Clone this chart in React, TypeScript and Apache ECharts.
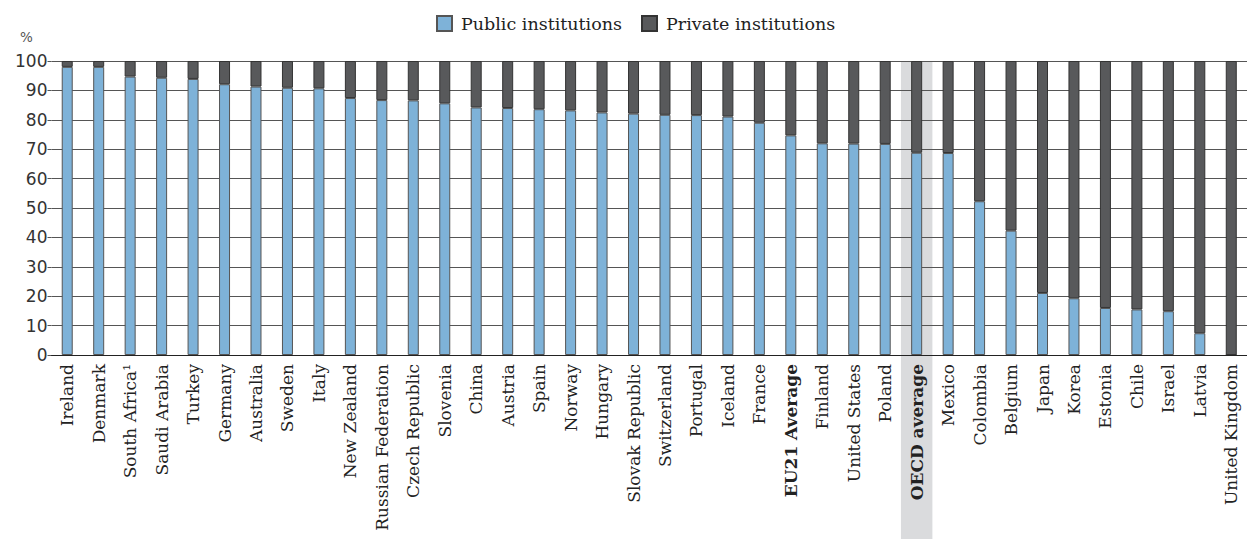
import React, { useEffect, useRef } from "react";
import * as echarts from "echarts";

const countries = [
  "Ireland", "Denmark", "South Africa¹", "Saudi Arabia", "Turkey", "Germany", "Australia",
  "Sweden", "Italy", "New Zealand", "Russian Federation", "Czech Republic", "Slovenia",
  "China", "Austria", "Spain", "Norway", "Hungary", "Slovak Republic", "Switzerland",
  "Portugal", "Iceland", "France", "EU21 Average", "Finland", "United States", "Poland",
  "OECD average", "Mexico", "Colombia", "Belgium", "Japan", "Korea", "Estonia", "Chile",
  "Israel", "Latvia", "United Kingdom",
];

const publicShare = [
  98, 98, 94.7, 94.3, 93.9, 92.1, 91.3, 90.9, 90.7, 87.4, 86.7, 86.6, 85.6, 84.2, 84.0,
  83.6, 83.2, 82.5, 82.1, 81.7, 81.6, 81.1, 79.0, 74.7, 72.0, 71.9, 71.8, 68.8, 68.7,
  52.3, 42.3, 21.1, 19.3, 16.0, 15.5, 14.9, 7.4, 0,
];

const privateShare = [
  2, 2, 5.3, 5.7, 6.1, 7.9, 8.7, 9.1, 9.3, 12.6, 13.3, 13.4, 14.4, 15.8, 16.0,
  16.4, 16.8, 17.5, 17.9, 18.3, 18.4, 18.9, 21.0, 25.3, 28.0, 28.1, 28.2, 31.2, 31.3,
  47.7, 57.7, 78.9, 80.7, 84.0, 84.5, 85.1, 92.6, 100,
];

const yTicks = [0, 10, 20, 30, 40, 50, 60, 70, 80, 90, 100];
const boldLabels = ["EU21 Average", "OECD average"];
const highlighted = "OECD average";

const SERIF = "'DejaVu Serif', serif";
const SANS = "'DejaVu Sans', sans-serif";

export default function App() {
  const ref = useRef<HTMLDivElement>(null);

  useEffect(() => {
    if (!ref.current) return;
    const chart = echarts.init(ref.current, undefined, { renderer: "svg" });
    const gridTop = 61;
    const pctText = {
      type: "text",
      left: 20,
      top: 30,
      style: { text: "%", fontFamily: SANS, fontSize: 13.5, fill: "#555" },
    };
    chart.setOption({
      animation: false,
      legend: {
        top: 14.5,
        left: 436,
        padding: 0,
        itemWidth: 15,
        itemHeight: 15,
        itemGap: 19,
        icon: "rect",
        textStyle: { fontFamily: SERIF, fontSize: 17.5, color: "#222", padding: [0, 0, 0, 4] },
        data: ["Public institutions", "Private institutions"],
      },
      grid: { left: 51.5, right: -6.5, top: gridTop, bottom: 184, containLabel: false },
      xAxis: {
        type: "category",
        data: countries,
        axisLine: { show: true, lineStyle: { color: "#222", width: 1 } },
        axisTick: { show: false },
        axisLabel: {
          rotate: 90,
          interval: 0,
          margin: 9,
          fontFamily: SERIF,
          fontSize: 17,
          color: "#222",
          formatter: (v: string) => (boldLabels.includes(v) ? `{b|${v}}` : v),
          rich: { b: { fontFamily: SERIF, fontSize: 17, fontWeight: "bold", color: "#222" } },
        },
        z: 3,
      },
      yAxis: {
        type: "value",
        min: yTicks[0],
        max: yTicks[yTicks.length - 1],
        interval: 10,
        axisLine: { show: false },
        axisTick: { show: true, length: 4, lineStyle: { color: "#555" } },
        axisLabel: { fontFamily: SANS, fontSize: 17, color: "#333", margin: 4 },
        splitLine: { show: true, lineStyle: { color: "#555", width: 1 } },
      },
      series: [
        {
          name: "Public institutions",
          type: "bar",
          stack: "total",
          data: publicShare,
          barWidth: 11,
          itemStyle: { color: "#7eb2d8", borderColor: "#555", borderWidth: 1 },
          z: 2,
        },
        {
          name: "Private institutions",
          type: "bar",
          stack: "total",
          data: privateShare,
          barWidth: 11,
          itemStyle: { color: "#58595b", borderColor: "#333", borderWidth: 1 },
          z: 2,
        },
      ],
      graphic: [pctText],
    });

    const idx = countries.indexOf(highlighted);
    const c0 = chart.convertToPixel({ xAxisIndex: 0 }, countries[0]) as number;
    const c1 = chart.convertToPixel({ xAxisIndex: 0 }, countries[1]) as number;
    const cx = chart.convertToPixel({ xAxisIndex: 0 }, countries[idx]) as number;
    const w = c1 - c0;
    chart.setOption({
      graphic: [
        pctText,
        {
          type: "rect",
          z: -10,
          silent: true,
          shape: { x: cx - w / 2, y: gridTop, width: w, height: 539 - gridTop },
          style: { fill: "#dadbdd" },
        },
      ],
    });

    return () => chart.dispose();
  }, []);

  return <div ref={ref} style={{ width: 1247, height: 539, position: "absolute", left: 0, top: 0 }} />;
}
